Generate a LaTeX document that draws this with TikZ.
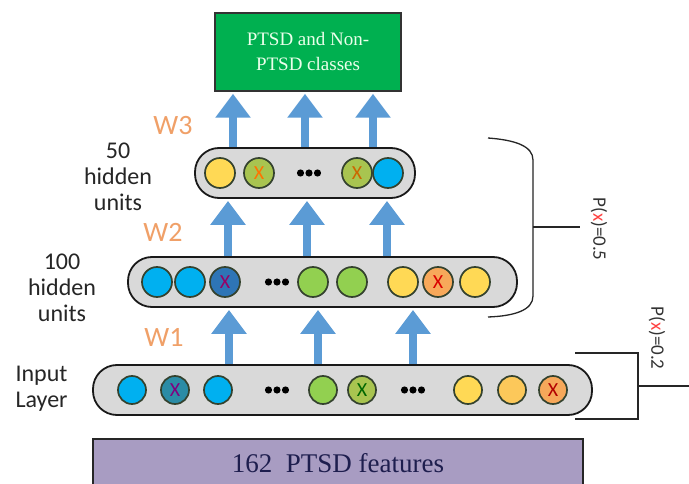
\documentclass[tikz,border=0pt]{standalone}
\usepackage{fontspec}
\setmainfont{Liberation Serif}
\newfontfamily\serfont{Liberation Serif}
\newfontfamily\lblfont{Carlito}
\usetikzlibrary{arrows.meta}
\definecolor{cblue}{HTML}{00B0F0}
\definecolor{cgreen}{HTML}{92D050}
\definecolor{cyellow}{HTML}{FFD955}
\definecolor{cyorange}{HTML}{FCC85A}
\definecolor{corange}{HTML}{F7A85A}
\definecolor{colive}{HTML}{A8C450}
\definecolor{cdblue}{HTML}{2E75B6}
\definecolor{cteal}{HTML}{2B8CA6}
\definecolor{cedge}{HTML}{34422E}
\definecolor{arrowblue}{HTML}{5B9BD5}
\definecolor{boxgreen}{HTML}{00B050}
\definecolor{boxpurple}{HTML}{A89CC2}
\definecolor{wcol}{HTML}{F0A068}
\definecolor{pillgray}{HTML}{D9D9D9}
\definecolor{navy}{HTML}{1E1E4E}
\tikzset{
  pill/.style={draw=black!90, line width=1.8pt, fill=pillgray, rounded corners=24pt, minimum height=50pt, inner sep=0pt},
  neuron/.style={circle, draw=cedge, line width=1.7pt, minimum size=30pt, inner sep=0pt, font=\lblfont\fontsize{20}{20}\selectfont},
  sneuron/.style={neuron, minimum size=28pt},
  uparrow/.style={draw=arrowblue, line width=7.5pt, -{Triangle[width=34pt,length=24pt]}, shorten >=2pt},
  sidelabel/.style={font=\lblfont\fontsize{24}{26}\selectfont, align=center, text=black!85},
  wlabel/.style={font=\lblfont\fontsize{28}{28}\selectfont, text=wcol},
  plabel/.style={font=\lblfont\fontsize{19}{19}\selectfont, rotate=-90, text=black!80},
  bracket/.style={draw=black!85, line width=1.3pt},
  dotsnode/.style={inner sep=0pt, minimum width=26pt, minimum height=9pt,
    path picture={\fill[black] (path picture bounding box.center) ++(-8.5pt,0) circle (3.6pt)
      (path picture bounding box.center) circle (3.6pt)
      (path picture bounding box.center) ++(8.5pt,0) circle (3.6pt);}}
}
\begin{document}
\begin{tikzpicture}[x=1pt,y=-1pt]
\useasboundingbox (0,0) rectangle (689,484);
\fill[white] (0,0) rectangle (689,484);

% output box
\node[draw=black!80, line width=1.5pt, fill=boxgreen, minimum width=186pt, minimum height=78pt,
  text=green!8, font=\serfont\fontsize{19}{25}\selectfont, align=center] (out) at (308,52) {PTSD and Non-\\PTSD classes};

% layers
\node[pill, minimum width=220pt] (L3) at (305,173) {};
\node[pill, minimum width=389pt] (L2) at (322.5,282) {};
\node[pill, minimum width=499pt] (L1) at (342.5,390) {};

% input features box
\node[draw=black!85, line width=1.5pt, fill=boxpurple, minimum width=490pt, minimum height=52pt,
  anchor=north, text=navy, font=\serfont\fontsize{27}{27}\selectfont] (feat) at (338,438) {\raisebox{4pt}{162\ \ PTSD features}};

% layer 3 neurons
\node[neuron, fill=cyellow] (n31) at (220,173) {};
\node[neuron, fill=colive, text=orange!90!red] (n32) at (259,173) {X};
\node[dotsnode] (d31) at (309,173) {};
\node[neuron, fill=colive, text=orange!80!black] (n33) at (357,173) {X};
\node[neuron, fill=cblue] (n34) at (388,173) {};

% layer 2 neurons
\node[neuron, fill=cblue] (n21) at (157,282) {};
\node[neuron, fill=cblue] (n22) at (190,282) {};
\node[neuron, fill=cdblue, text=violet!80!red] (n23) at (225,282) {X};
\node[dotsnode] (d21) at (277,282) {};
\node[neuron, fill=cgreen] (n24) at (313,282) {};
\node[neuron, fill=cgreen] (n25) at (352,282) {};
\node[neuron, fill=cyellow] (n26) at (403,282) {};
\node[neuron, fill=corange, text=red!85!black] (n27) at (438,282) {X};
\node[neuron, fill=cyellow] (n28) at (475,282) {};

% input neurons
\node[sneuron, fill=cblue] (n11) at (132,390) {};
\node[sneuron, fill=cteal, text=violet] (n12) at (175,390) {X};
\node[sneuron, fill=cblue] (n13) at (218,390) {};
\node[dotsnode] (d11) at (277,390) {};
\node[sneuron, fill=cgreen] (n14) at (323,390) {};
\node[sneuron, fill=colive, text=green!40!black] (n15) at (362,390) {X};
\node[dotsnode] (d12) at (413,390) {};
\node[sneuron, fill=cyellow] (n16) at (468,390) {};
\node[sneuron, fill=cyorange] (n17) at (512,390) {};
\node[sneuron, fill=corange, text=red!70!black] (n18) at (553,390) {X};

% arrow columns
\coordinate (a31) at (233,0);
\coordinate (a32) at (305,0);
\coordinate (a33) at (373,0);
\coordinate (a21) at (228,0);
\coordinate (a22) at (307,0);
\coordinate (a23) at (387,0);
\coordinate (a11) at (229,0);
\coordinate (a12) at (318,0);
\coordinate (a13) at (413,0);

\foreach \c in {a31,a32,a33} \draw[uparrow] (L3.north -| \c) -- (out.south -| \c);
\foreach \c in {a21,a22,a23} \draw[uparrow] (L2.north -| \c) -- (L3.south -| \c);
\foreach \c in {a11,a12,a13} \draw[uparrow] (L1.north -| \c) -- (L2.south -| \c);

% side labels
\node[sidelabel] (s3) at (118,177) {50\\hidden\\units};
\node[sidelabel] (s2) at (62,288) {100\\hidden\\units};
\node[sidelabel, align=left, anchor=west] (s1) at (12,389) {Input\\Layer};
\node[wlabel] (w3) at (173,126) {W3};
\node[wlabel] (w2) at (163,232) {W2};
\node[wlabel] (w1) at (164,337) {W1};

% dropout brackets
\coordinate (b5t) at (488,138);
\coordinate (b5b) at (488,317);
\coordinate (b5m) at (533,227);
\coordinate (b5e) at (580,227);
\draw[bracket] (b5t) .. controls (515,140) and (533,146) .. (533,160) -- (533,296)
  .. controls (533,310) and (515,316) .. (b5b);
\draw[bracket] (b5m) -- (b5e);
\node[plabel] (p5) at (599,229) {P({\color{red!75}x})=0.5};

\coordinate (b2t) at (575,353);
\coordinate (b2b) at (575,419);
\coordinate (b2m) at (638,386);
\coordinate (b2e) at (689,386);
\draw[bracket] (b2t) -- (638,353) -- (638,419) -- (b2b);
\draw[bracket] (b2m) -- (b2e);
\node[plabel] (p2) at (657,338) {P({\color{red!75}x})=0.2};
\end{tikzpicture}
\end{document}
